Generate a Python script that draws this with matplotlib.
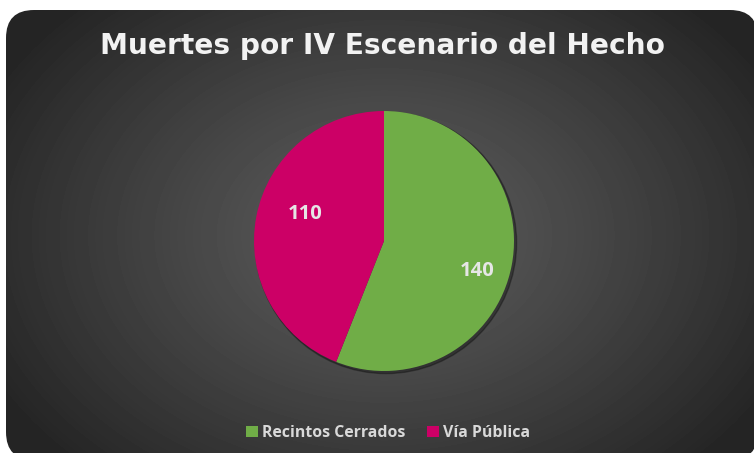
"""Muertes por IV Escenario del Hecho - gráfico circular."""

import numpy as np
import matplotlib.pyplot as plt
from matplotlib.patches import FancyBboxPatch, Circle

categories = ["Recintos Cerrados", "Vía Pública"]
values = [140, 110]
colors = ["#70AD47", "#CC0066"]
title = "Muertes por IV Escenario del Hecho"

W, H = 754, 453
plt.rcParams["font.family"] = ["Open Sans", "DejaVu Sans"]

fig = plt.figure(figsize=(W / 100, H / 100), dpi=100, facecolor="white")

# fondo: rectángulo redondeado con degradado radial
ax_bg = fig.add_axes([0, 0, 1, 1], zorder=0)
ax_bg.set_xlim(0, W)
ax_bg.set_ylim(H, 0)
ax_bg.axis("off")
yy, xx = np.mgrid[0:H, 0:W]
r = np.sqrt(((xx - 384) / 440.0) ** 2 + ((yy - 235) / 320.0) ** 2)
r = np.clip(r, 0, 1)
shade = 0x5c / 255 + (0x25 / 255 - 0x5c / 255) * r ** 1.2
img = ax_bg.imshow(shade, cmap="gray", vmin=0, vmax=1, extent=(0, W, H, 0),
                   interpolation="bilinear")
box = FancyBboxPatch((6, 10), 752, 450, boxstyle="round,pad=0,rounding_size=28",
                     transform=ax_bg.transData, facecolor="none", edgecolor="none")
ax_bg.add_patch(box)
img.set_clip_path(box)

# pastel
cx, cy, rad = 384, 241, 130
ax = fig.add_axes([(cx - rad) / W, (H - cy - rad) / H, 2 * rad / W, 2 * rad / H],
                  zorder=1)
ax.add_patch(Circle((0.015, -0.015), 1.005, color="black", alpha=0.3, zorder=0,
                    clip_on=False))
wedges, _ = ax.pie(values, colors=colors, startangle=90, counterclock=False,
                   radius=1, wedgeprops=dict(linewidth=0, clip_on=False))
ax.set_xlim(-1, 1)
ax.set_ylim(-1, 1)
ax.set_aspect("equal")
ax.axis("off")

# etiquetas de datos (posición estilo "ajuste perfecto" de Excel)
label_pos = [(0.72, -0.23), (-0.61, 0.21)]
for v, (lx, ly) in zip(values, label_pos):
    ax.text(lx, ly, str(v), ha="center", va="center",
            color="#E6E6E6", fontsize=14.5, fontweight="bold", zorder=5)

fig.text(382 / W, 1 - 46 / H, title, ha="center", va="center",
         color="#F2F2F2", fontsize=20.2, fontweight="bold", family="DejaVu Sans")

leg = fig.legend(wedges, categories, loc="center", bbox_to_anchor=(388 / W, 1 - 433 / H),
                 ncol=2, frameon=False, handlelength=0.75, handleheight=0.75,
                 handletextpad=0.25, columnspacing=1.4,
                 prop=dict(size=11.4, weight="bold"))
for t in leg.get_texts():
    t.set_color("#D9D9D9")

fig.savefig("out.png", dpi=100, facecolor="white")
